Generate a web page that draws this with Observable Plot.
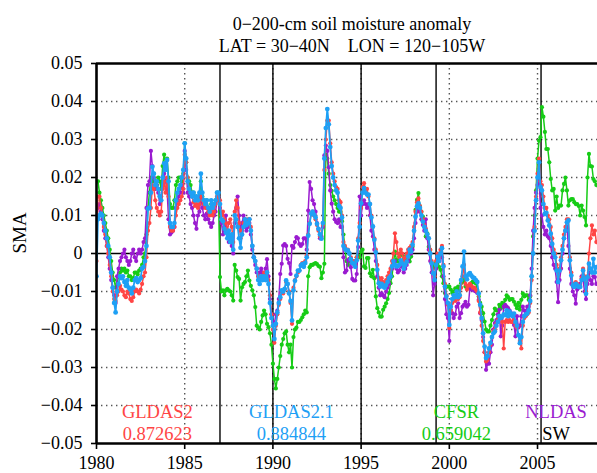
<!DOCTYPE html>
<html>
<head>
<meta charset="utf-8">
<script src="https://cdn.jsdelivr.net/npm/d3@7"></script>
<script src="https://cdn.jsdelivr.net/npm/@observablehq/plot@0.6"></script>
<style>
  html, body { margin: 0; padding: 0; background: #fff; overflow: hidden; }
  #wrap { position: relative; width: 597px; height: 473px; }
  .ttl { position: absolute; left: 352px; transform: translateX(-50%); white-space: pre;
         font-family: "Liberation Serif", "Times New Roman", serif; font-size: 18px; line-height: 18px; color: #000; }
</style>
</head>
<body>
<div id="wrap">
  <div id="chart"></div>
  <div class="ttl" style="top:15px">0−200-cm soil moisture anomaly</div>
  <div class="ttl" style="top:37px">LAT = 30−40N    LON = 120−105W</div>
</div>
<script>
// Monthly series starting January 1980
const startYear = 1980;

const gldas2 = [
  -0.002, 0.015, 0.015, 0.012, 0.010, 0.007, 0.005, 0.002, 0.000, -0.003, -0.006, -0.010,
  -0.012, -0.0125, -0.011, -0.010, -0.0085, -0.0095, -0.010, -0.011, -0.0115, -0.010, -0.0105, -0.012,
  -0.0125, -0.0115, -0.010, -0.0095, -0.010, -0.0105, -0.0095, -0.008, -0.006, -0.005, -0.001, 0.006,
  0.008, 0.012, 0.018, 0.017, 0.014, 0.012, 0.011, 0.010, 0.011, 0.017, 0.019, 0.016,
  0.020, 0.015, 0.007, 0.006, 0.006, 0.007, 0.010, 0.012, 0.013, 0.014, 0.015, 0.017,
  0.026, 0.024, 0.020, 0.017, 0.016, 0.015, 0.0135, 0.0125, 0.013, 0.012, 0.013, 0.016,
  0.014, 0.013, 0.012, 0.012, 0.011, 0.010, 0.011, 0.010, 0.011, 0.013, 0.015, 0.014,
  0.014, 0.010, 0.011, 0.009, 0.008, 0.006, 0.008, 0.009, 0.007, 0.003, 0.011, 0.014,
  0.012, 0.008, 0.004, 0.006, 0.008, 0.009, 0.008, 0.009, 0.009, 0.007, 0.002, -0.001,
  -0.002, -0.004, -0.006, -0.007, -0.006, -0.006, -0.005, -0.006, -0.005, -0.007, -0.011, -0.016,
  -0.020, -0.0235, -0.019, -0.016, -0.0135, -0.012, -0.010, -0.0105, -0.0095, -0.0075, -0.008, -0.010,
  -0.013, -0.0185, -0.009, -0.007, -0.006, -0.005, -0.0045, -0.003, -0.0025, -0.003, -0.002, -0.0005,
  0.005, 0.008, 0.0105, 0.011, 0.010, 0.009, 0.0075, 0.006, 0.0045, 0.004, 0.0075, 0.022,
  0.030, 0.035, 0.035, 0.029, 0.024, 0.021, 0.019, 0.0175, 0.017, 0.014, 0.0135, 0.010,
  0.003, 0.002, 0.001, 0.001, 0.000, -0.001, -0.002, -0.002, -0.003, -0.001, 0.004, 0.008,
  0.012, 0.0175, 0.0185, 0.017, 0.017, 0.015, 0.013, 0.010, 0.007, 0.004, 0.001, -0.003,
  -0.0065, -0.0075, -0.0065, -0.0075, -0.008, -0.007, -0.006, -0.005, -0.004, -0.002, 0.000, 0.0053,
  0.003, 0.000, -0.001, 0.001, 0.000, -0.002, -0.001, 0.000, 0.001, 0.0015, 0.002, 0.003,
  0.007, 0.011, 0.0135, 0.0145, 0.0125, 0.011, 0.009, 0.0075, 0.0065, 0.005, 0.004, 0.001,
  -0.002, -0.005, -0.006, -0.002, 0.000, -0.001, 0.001, 0.002, -0.003, -0.008, -0.011, -0.0135,
  -0.0196, -0.015, -0.013, -0.012, -0.0125, -0.011, -0.012, -0.0115, -0.009, -0.006, -0.003, -0.008,
  -0.0095, -0.0085, -0.008, -0.0085, -0.009, -0.009, -0.0095, -0.010, -0.0125, -0.0155, -0.019, -0.023,
  -0.026, -0.0284, -0.028, -0.026, -0.024, -0.022, -0.0205, -0.020, -0.0185, -0.0175, -0.0165, -0.017,
  -0.018, -0.025, -0.018, -0.0175, -0.018, -0.0175, -0.018, -0.018, -0.0175, -0.019, -0.0195, -0.0215,
  -0.023, -0.025, -0.019, -0.017, -0.0165, -0.016, -0.0155, -0.013, -0.007, 0.000, 0.007, 0.015,
  0.021, 0.025, 0.019, 0.018, 0.015, 0.012, 0.012, 0.010, 0.009, 0.007, 0.004, 0.001,
  0.000, -0.003, -0.006, -0.004, -0.001, 0.002, 0.005, 0.007, 0.009, 0.009, -0.001, -0.005,
  -0.008, -0.008, -0.0075, -0.008, -0.0085, -0.0085, -0.0065, -0.004, -0.006, -0.010, -0.006, 0.000,
  0.004, 0.0074, 0.005, 0.006, 0.003
];

const gldas21 = [
  -0.006, 0.009, 0.010, 0.0105, 0.010, 0.008, 0.006, 0.004, 0.002, -0.001, -0.005, -0.009,
  -0.013, -0.0155, -0.010, -0.008, -0.006, -0.0065, -0.006, -0.0075, -0.0085, -0.007, -0.009, -0.0095,
  -0.0105, -0.009, -0.007, -0.0065, -0.0075, -0.007, -0.0065, -0.004, -0.0035, -0.002, 0.002, 0.0118,
  0.012, 0.016, 0.0228, 0.021, 0.018, 0.019, 0.017, 0.015, 0.014, 0.020, 0.0237, 0.022,
  0.0246, 0.019, 0.008, 0.007, 0.007, 0.008, 0.014, 0.016, 0.017, 0.018, 0.020, 0.022,
  0.029, 0.025, 0.019, 0.017, 0.016, 0.015, 0.016, 0.014, 0.015, 0.014, 0.016, 0.021,
  0.016, 0.014, 0.013, 0.014, 0.012, 0.011, 0.014, 0.012, 0.013, 0.014, 0.016, 0.016,
  0.013, 0.009, 0.0085, 0.0065, 0.0055, 0.004, 0.006, 0.003, 0.005, 0.001, 0.010, 0.009,
  0.007, 0.004, 0.0015, 0.005, 0.007, 0.009, 0.0075, 0.008, 0.009, 0.006, 0.002, -0.001,
  -0.002, -0.004, -0.007, -0.008, -0.006, -0.007, -0.006, -0.007, -0.005, -0.008, -0.013, -0.017,
  -0.019, -0.0225, -0.0185, -0.0155, -0.013, -0.0115, -0.0097, -0.010, -0.0093, -0.0071, -0.008, -0.0105,
  -0.0125, -0.0176, -0.0097, -0.0072, -0.0058, -0.0045, -0.0045, -0.0032, -0.0028, -0.0035, -0.0025, -0.001,
  0.0047, 0.0078, 0.0105, 0.011, 0.0102, 0.0095, 0.0078, 0.0065, 0.005, 0.0039, 0.008, 0.025,
  0.033, 0.038, 0.034, 0.028, 0.023, 0.020, 0.018, 0.0166, 0.016, 0.0125, 0.012, 0.0095,
  0.002, 0.0012, 0.0008, 0.0008, 0.000, -0.0015, -0.0025, -0.0027, -0.0035, -0.0018, 0.0034, 0.007,
  0.0132, 0.016, 0.0172, 0.016, 0.0155, 0.0155, 0.013, 0.0095, 0.0071, 0.0036, 0.0003, -0.0043,
  -0.0078, -0.0087, -0.008, -0.0087, -0.009, -0.0083, -0.0075, -0.0065, -0.006, -0.0034, -0.002, -0.003,
  -0.0034, -0.0033, -0.003, -0.0018, -0.0026, -0.004, -0.003, -0.0022, -0.0008, 0.001, 0.0005, 0.0023,
  0.006, 0.0097, 0.0124, 0.0132, 0.012, 0.010, 0.0084, 0.007, 0.006, 0.005, 0.004, 0.000,
  -0.0026, -0.0052, -0.007, -0.003, -0.0008, -0.002, 0.000, 0.0014, -0.0034, -0.0087, -0.0113, -0.013,
  -0.0188, -0.014, -0.012, -0.011, -0.0115, -0.010, -0.0115, -0.011, -0.007, -0.0034, 0.0005, -0.006,
  -0.0068, -0.0055, -0.0052, -0.0058, -0.0063, -0.0065, -0.007, -0.0075, -0.0105, -0.0135, -0.017, -0.021,
  -0.0245, -0.0275, -0.027, -0.025, -0.0235, -0.022, -0.021, -0.0205, -0.019, -0.018, -0.0165, -0.017,
  -0.0166, -0.016, -0.0162, -0.015, -0.0165, -0.0153, -0.016, -0.0165, -0.0158, -0.018, -0.019, -0.0215,
  -0.0236, -0.022, -0.018, -0.0165, -0.016, -0.0158, -0.015, -0.0125, -0.006, 0.000, 0.006, 0.014,
  0.020, 0.024, 0.0175, 0.0166, 0.013, 0.0104, 0.0107, 0.0087, 0.0074, 0.0052, 0.0025, 0.000,
  -0.001, -0.0045, -0.0075, -0.0045, -0.0018, 0.001, 0.004, 0.006, 0.0082, 0.0087, -0.0018, -0.0058,
  -0.0084, -0.0088, -0.008, -0.0084, -0.0088, -0.0088, -0.007, -0.0045, -0.0067, -0.0106, -0.0062, -0.0027,
  -0.004, -0.005, -0.0014, -0.005, -0.0036
];

const cfsr = [
  0.019, 0.019, 0.016, 0.014, 0.012, 0.010, 0.008, 0.006, 0.004, 0.001, -0.002, -0.005,
  -0.007, -0.009, -0.008, -0.006, -0.005, -0.004, -0.0045, -0.004, -0.005, -0.0045, -0.006, -0.006,
  -0.007, -0.0065, -0.005, -0.005, -0.0055, -0.0045, -0.004, -0.003, -0.001, 0.000, 0.005, 0.012,
  0.016, 0.020, 0.019, 0.021, 0.019, 0.018, 0.020, 0.019, 0.017, 0.023, 0.026, 0.024,
  0.025, 0.020, 0.013, 0.012, 0.012, 0.014, 0.018, 0.019, 0.020, 0.020, 0.019, 0.021,
  0.029, 0.024, 0.020, 0.019, 0.018, 0.016, 0.016, 0.015, 0.015, 0.014, 0.015, 0.019,
  0.015, 0.014, 0.013, 0.014, 0.012, 0.011, 0.013, 0.012, 0.013, 0.014, 0.016, 0.015,
  -0.0062, -0.010, -0.0097, -0.011, -0.0097, -0.0093, -0.0097, -0.010, -0.011, -0.0124, -0.003, -0.0045,
  -0.0062, -0.0067, -0.0124, -0.0089, -0.008, -0.0075, -0.006, -0.0045, -0.0071, -0.0085, -0.0097, -0.011,
  -0.0141, -0.019, -0.0195, -0.020, -0.018, -0.0163, -0.015, -0.016, -0.0185, -0.0194, -0.021, -0.024,
  -0.029, -0.033, -0.0355, -0.033, -0.030, -0.027, -0.024, -0.0225, -0.021, -0.0205, -0.024, -0.026,
  -0.024, -0.030, -0.022, -0.020, -0.0195, -0.018, -0.018, -0.0175, -0.0168, -0.016, -0.015, -0.0155,
  -0.006, -0.0036, -0.003, -0.003, -0.0027, -0.0025, -0.0028, -0.0033, -0.0035, -0.0065, -0.005, -0.0027,
  0.026, 0.025, 0.021, 0.018, 0.0165, 0.015, 0.014, 0.013, 0.012, 0.011, 0.011, 0.0085,
  0.005, 0.0015, -0.002, -0.003, -0.002, -0.0015, -0.0025, -0.0025, -0.002, -0.001, -0.0005, -0.001,
  0.0005, 0.001, -0.0034, -0.0038, -0.0012, -0.0012, -0.0052, -0.006, -0.0043, -0.0065, -0.0113, -0.0144,
  -0.0155, -0.0166, -0.0166, -0.0148, -0.014, -0.0131, -0.012, -0.0104, -0.0078, -0.006, -0.0025, 0.0005,
  -0.0017, -0.0021, -0.0008, 0.0001, -0.0004, -0.0017, -0.0008, -0.0012, -0.0017, -0.0021, -0.0008, 0.0018,
  0.006, 0.0115, 0.0141, 0.0159, 0.0124, 0.011, 0.0097, 0.008, 0.0045, 0.0053, 0.0018, 0.0009,
  -0.0025, -0.0038, -0.003, -0.0025, -0.0017, -0.0035, -0.0043, -0.006, -0.0078, -0.0104, -0.0087, -0.0087,
  -0.0087, -0.0095, -0.0104, -0.010, -0.0092, -0.0092, -0.0087, -0.0109, -0.0078, -0.0075, -0.007, -0.0087,
  -0.0092, -0.0087, -0.0083, -0.0078, -0.0074, -0.0076, -0.0078, -0.0096, -0.0113, -0.013, -0.014, -0.0157,
  -0.0179, -0.020, -0.0205, -0.0205, -0.019, -0.0175, -0.016, -0.0145, -0.015, -0.015, -0.0135, -0.0145,
  -0.013, -0.014, -0.0122, -0.011, -0.0115, -0.0122, -0.012, -0.012, -0.0127, -0.0135, -0.0144, -0.013,
  -0.0148, -0.0122, -0.0105, -0.0113, -0.011, -0.011, -0.0122, -0.0113, -0.006, 0.0045, 0.010, 0.0166,
  0.025, 0.0297, 0.0306, 0.0385, 0.036, 0.032, 0.0275, 0.0275, 0.024, 0.0196, 0.0166, 0.017,
  0.0113, 0.015, 0.012, 0.0126, 0.0126, 0.0166, 0.0183, 0.020, 0.0166, 0.0126, 0.014, 0.0143,
  0.0143, 0.0135, 0.013, 0.013, 0.0125, 0.010, 0.0126, 0.0113, 0.0096, 0.0074, 0.020, 0.0262,
  0.023, 0.0229, 0.0196, 0.019, 0.018
];

const nldas = [
  0.009, 0.012, 0.013, 0.011, 0.009, 0.006, 0.004, 0.002, -0.001, -0.004, -0.007, -0.009,
  -0.011, -0.013, -0.006, -0.004, -0.002, -0.001, 0.000, 0.001, -0.001, -0.002, -0.003, -0.002,
  0.000, 0.001, -0.001, -0.002, 0.000, 0.001, 0.000, 0.001, 0.003, 0.004, 0.012, 0.018,
  0.019, 0.027, 0.023, 0.020, 0.017, 0.018, 0.016, 0.013, 0.015, 0.020, 0.021, 0.019,
  0.017, 0.009, 0.005, 0.0055, 0.006, 0.007, 0.012, 0.014, 0.015, 0.016, 0.018, 0.016,
  0.027, 0.022, 0.016, 0.015, 0.013, 0.012, 0.010, 0.008, 0.0065, 0.010, 0.011, 0.015,
  0.012, 0.010, 0.009, 0.0105, 0.009, 0.008, 0.007, 0.008, 0.010, 0.011, 0.014, 0.015,
  0.012, 0.008, 0.005, 0.007, 0.010, 0.006, 0.003, 0.004, 0.002, 0.000, 0.008, 0.012,
  0.015, 0.010, 0.006, 0.008, 0.010, 0.007, 0.006, 0.007, 0.008, 0.005, 0.001, -0.001,
  -0.003, -0.005, -0.006, -0.005, -0.004, -0.005, -0.006, -0.004, -0.0015, -0.006, -0.012, -0.016,
  -0.018, -0.0185, -0.016, -0.015, -0.012, -0.0054, -0.0027, 0.0021, 0.0025, 0.002, -0.0014, -0.0025,
  -0.0054, 0.002, 0.0015, 0.003, 0.0043, 0.004, 0.0025, 0.002, 0.0025, 0.004, 0.004, 0.001,
  0.0113, 0.0188, 0.017, 0.014, 0.013, 0.011, 0.008, 0.0065, 0.004, 0.0045, 0.007, 0.0258,
  0.0284, 0.027, 0.0227, 0.0166, 0.0131, 0.011, 0.009, 0.0083, 0.008, 0.009, 0.007, 0.007,
  -0.001, -0.005, -0.0045, -0.0018, -0.0014, -0.0036, -0.0067, -0.0071, -0.0071, -0.0054, 0.0017, 0.015,
  0.010, 0.013, 0.014, 0.013, 0.012, 0.013, 0.010, 0.006, 0.0045, 0.001, -0.002, -0.006,
  -0.009, -0.011, -0.0105, -0.011, -0.0115, -0.010, -0.009, -0.008, -0.006, -0.004, -0.0025, -0.002,
  -0.004, -0.005, -0.0045, -0.003, -0.0035, -0.005, -0.004, -0.003, -0.002, 0.000, 0.000, 0.001,
  0.004, 0.008, 0.011, 0.012, 0.011, 0.009, 0.0075, 0.006, 0.009, 0.004, 0.001, -0.002,
  -0.005, -0.011, -0.008, -0.004, -0.001, -0.002, 0.000, -0.001, -0.006, -0.012, -0.016, -0.017,
  -0.023, -0.0148, -0.0157, -0.017, -0.016, -0.014, -0.0131, -0.017, -0.0157, -0.014, -0.0135, -0.0127,
  -0.014, -0.0135, -0.009, -0.0095, -0.0095, -0.0098, -0.010, -0.0104, -0.0122, -0.0157, -0.0175, -0.022,
  -0.026, -0.0306, -0.029, -0.029, -0.026, -0.024, -0.020, -0.0183, -0.0175, -0.016, -0.0148, -0.0218,
  -0.019, -0.014, -0.0135, -0.014, -0.0144, -0.015, -0.0157, -0.0165, -0.0188, -0.0218, -0.0165, -0.0195,
  -0.019, -0.0165, -0.014, -0.015, -0.0153, -0.014, -0.014, -0.011, -0.004, 0.006, 0.012, 0.016,
  0.018, 0.020, 0.012, 0.010, 0.007, 0.005, 0.006, 0.0045, 0.004, 0.002, -0.001, -0.003,
  -0.004, -0.0075, -0.0128, -0.007, -0.004, 0.000, 0.004, 0.006, 0.007, 0.002, -0.004, -0.008,
  -0.010, -0.011, -0.0132, -0.0095, -0.009, -0.008, -0.006, -0.007, -0.010, -0.012, -0.008, -0.005,
  -0.007, -0.008, -0.006, -0.0062, -0.008
];

const seriesNames = ["GLDAS2", "GLDAS2.1", "CFSR", "NLDAS"];
const correlations = ["0.872623", "0.884844", "0.659042"];
const regionLabel = "SW";
const breakYears = [1987, 1990, 1995, 1999.25, 2005.2];
const xTicks = [1980, 1985, 1990, 1995, 2000, 2005];
const yTicks = [-0.05, -0.04, -0.03, -0.02, -0.01, 0, 0.01, 0.02, 0.03, 0.04, 0.05];
const yGrid = [-0.04, -0.03, -0.02, -0.01, 0.01, 0.02, 0.03, 0.04];
const xGrid = [1985, 1990, 1995, 2000, 2005];

// ---- drawing ----
const SERIF = "Liberation Serif";
const colors = {"GLDAS2": "#ff4545", "GLDAS2.1": "#1ea0f5", "CFSR": "#16cc16", "NLDAS": "#9a1bd0"};
const toRows = (vals, name) => vals.map((v, i) => ({t: startYear + i / 12, v, name}));
const seriesData = {
  "GLDAS2": toRows(gldas2, "GLDAS2"),
  "GLDAS2.1": toRows(gldas21, "GLDAS2.1"),
  "CFSR": toRows(cfsr, "CFSR"),
  "NLDAS": toRows(nldas, "NLDAS")
};
const drawOrder = ["CFSR", "NLDAS", "GLDAS2", "GLDAS2.1"];
const seriesMarks = drawOrder.flatMap(n => [
  Plot.line(seriesData[n], {x: "t", y: "v", stroke: colors[n], strokeWidth: n === "GLDAS2.1" ? 1.8 : 1.5, clip: true}),
  Plot.dot(seriesData[n], {x: "t", y: "v", fill: colors[n], r: n === "GLDAS2.1" ? 2.4 : 2.1, clip: true})
]);

const labelX = [1983.45, 1991.05, 2000.4, 2006.05];
const nameRows = seriesNames.map((s, i) => ({x: labelX[i], s, c: colors[s]}));
const corrRows = correlations.map((s, i) => ({x: labelX[i], s, c: colors[seriesNames[i]]}))
  .concat([{x: labelX[3], s: regionLabel, c: "#000"}]);

const chart = Plot.plot({
  width: 597, height: 473,
  marginLeft: 96, marginRight: 0, marginTop: 63, marginBottom: 30,
  style: {fontFamily: SERIF, fontSize: "18px", background: "#fff", color: "#000", overflow: "visible"},
  x: {domain: [1980, 2008.4]},
  y: {domain: [-0.05, 0.05]},
  marks: [
    Plot.ruleY(yGrid, {stroke: "#555", strokeWidth: 1.4, strokeDasharray: "1.4,3.6"}),
    Plot.ruleX(xGrid, {stroke: "#555", strokeWidth: 1.4, strokeDasharray: "1.4,3.6"}),
    Plot.ruleX(breakYears, {stroke: "#000", strokeWidth: 1.4}),
    Plot.ruleY([0], {stroke: "#000", strokeWidth: 1.5}),
    ...seriesMarks,
    Plot.ruleY([-0.05, 0.05], {stroke: "#000", strokeWidth: 2.6}),
    Plot.ruleX([1980], {stroke: "#000", strokeWidth: 2.6}),
    Plot.axisX({ticks: xTicks, tickSize: 6, tickPadding: 7, strokeWidth: 1.6, fontSize: 18, fontFamily: SERIF,
      tickFormat: d => String(d), label: null}),
    Plot.axisY({ticks: yTicks, tickSize: 5, tickPadding: 9, strokeWidth: 1.6, fontSize: 18, fontFamily: SERIF,
      tickFormat: d => Math.abs(d) < 1e-9 ? "0" : d3.format(".2f")(d), label: null}),
    Plot.text(["SMA"], {frameAnchor: "left", rotate: -90, dx: -77, fontSize: 19, fontFamily: SERIF}),
    Plot.text(nameRows, {x: "x", y: () => -0.0416, text: "s", fill: d => d.c, fontSize: 18.5, fontFamily: SERIF}),
    Plot.text(corrRows, {x: "x", y: () => -0.0474, text: "s", fill: d => d.c, fontSize: 18.5, fontFamily: SERIF})
  ]
});
document.getElementById("chart").appendChild(chart);
</script>
</body>
</html>
